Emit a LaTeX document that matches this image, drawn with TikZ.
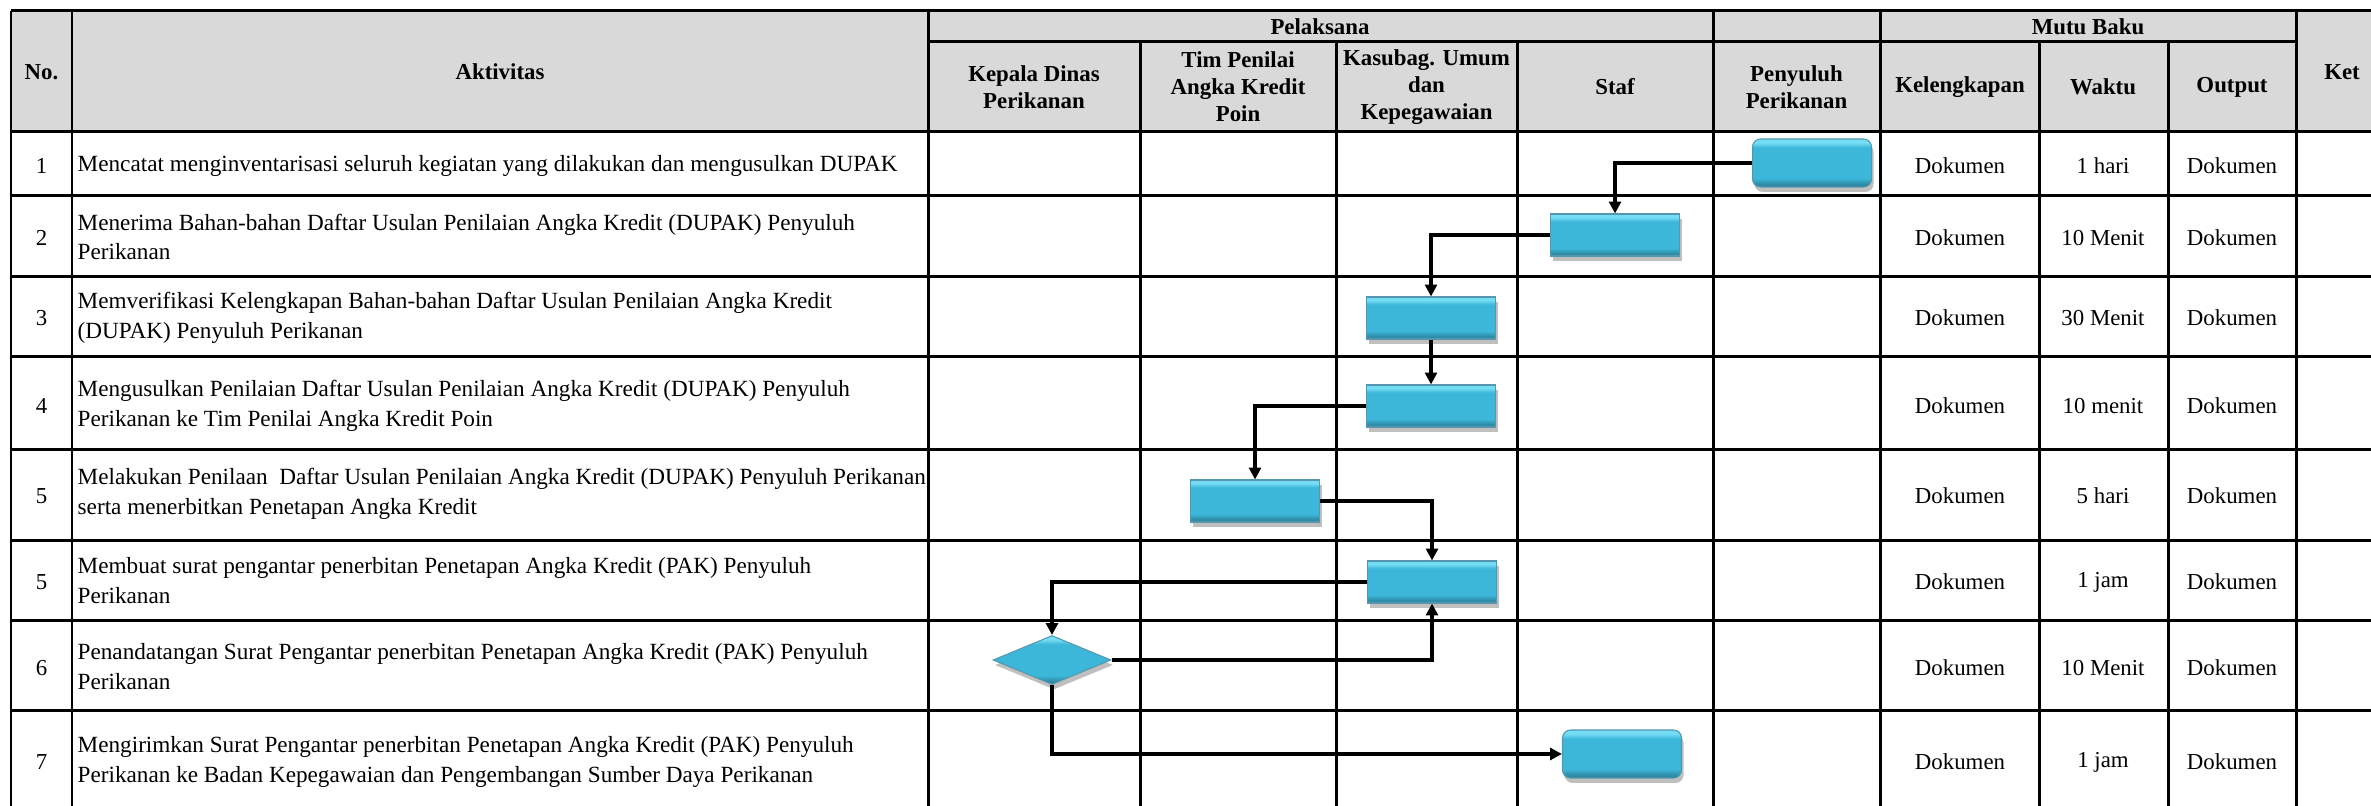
\documentclass[tikz,border=0pt]{standalone}
\usepackage{fontspec}
\setmainfont{Liberation Serif}
\usetikzlibrary{arrows.meta,shapes.geometric,shadows}

\definecolor{abu}{HTML}{D9D9D9}
\definecolor{birumuda}{HTML}{74DCF4}
\definecolor{biru}{HTML}{3CB6D9}
\definecolor{birutua}{HTML}{2B7E99}

% isian simbol: tepi atas terang, badan rata, tepi bawah gelap
\pgfdeclareverticalshading{timbul}{100bp}{color(0bp)=(birutua); color(25bp)=(birutua);
  color(29bp)=(biru!80!black); color(34bp)=(biru); color(66bp)=(biru);
  color(71bp)=(birumuda); color(75bp)=(birumuda); color(100bp)=(birumuda)}

\tikzset{
  garis/.style={line width=0.85pt},
  judul/.style={font=\bfseries\fontsize{6.5}{7.7}\selectfont, align=center, inner sep=0pt},
  kegiatan/.style={font=\fontsize{6.6}{8.5}\selectfont, align=left, anchor=west, inner sep=0pt},
  sel/.style={font=\fontsize{6.5}{8}\selectfont, inner sep=0pt},
  simbol/.style={draw=birutua!80, line width=0.3pt, shading=timbul, inner sep=0pt,
    drop shadow={shadow xshift=0.2mm, shadow yshift=-0.5mm, opacity=0.25, fill=black}},
  proses/.style={simbol, rectangle, minimum width=12.9mm, minimum height=4.2mm},
  terminal/.style={simbol, rectangle, rounded corners=0.8mm, minimum width=11.9mm, minimum height=4.8mm},
  keputusan/.style={simbol, diamond, minimum width=11.8mm, minimum height=4.9mm},
  alur/.style={line width=1pt, -{Triangle[length=3.4pt,width=3.4pt]}}
}

\begin{document}
\begin{tikzpicture}[x=0.1mm,y=-0.1mm]
  \clip (0,0) rectangle (2371,806);
  % kepala tabel
  \fill[abu] (11,11) rectangle (2390,132);
  % garis tabel
  \foreach \y in {11,132,196,277,357,450,541,621,711}
    \draw[garis] (11,\y) -- (2390,\y);
  \draw[garis] (928,42) -- (2296,42);
  \foreach \x in {11,72,928,1713,1880,2296}
    \draw[garis] (\x,11) -- (\x,820);
  \foreach \x in {1140,1336,1517,2039,2168}
    \draw[garis] (\x,42) -- (\x,820);

  \node[judul] (h-no) at (41.5,72) {No.};
  \node[judul] (h-akt) at (500,72) {Aktivitas};
  \node[judul] (h-pel) at (1320,27) {Pelaksana};
  \node[judul] (h-kadis) at (1034,87) {Kepala Dinas\\Perikanan};
  \node[judul] (h-tim) at (1238,87) {Tim Penilai\\Angka Kredit\\Poin};
  \node[judul] (h-kasubag) at (1426.5,87) {Kasubag. Umum\\dan\\Kepegawaian};
  \node[judul] (h-staf) at (1615,87) {Staf};
  \node[judul] (h-penyuluh) at (1796.5,87) {Penyuluh\\Perikanan};
  \node[judul] (h-mutu) at (2088,27) {Mutu Baku};
  \node[judul] (h-kel) at (1960,87) {Kelengkapan};
  \node[judul] (h-waktu) at (2103,87) {Waktu};
  \node[judul] (h-output) at (2232,87) {Output};
  \node[judul] (h-ket) at (2342,72) {Ket};

  % nomor, kelengkapan, waktu dan output tiap baris
  \foreach \i/\no/\y/\waktu in {1/1/166/1 hari, 2/2/238/10 Menit, 3/3/318/30 Menit,
      4/4/406/10 menit, 5/5/496/5 hari, 6/5/582/1 jam, 7/6/668/10 Menit, 8/7/762/1 jam} {
    \node[sel] (no-\i) at (41.5,\y) {\no};
    \node[sel] (kel-\i) at (1960,\y) {Dokumen};
    \node[sel] (waktu-\i) at (2103,\y) {\waktu};
    \node[sel] (out-\i) at (2232,\y) {Dokumen};
  }

  % aktivitas
  \node[kegiatan] (a1) at (77,166) {Mencatat menginventarisasi seluruh kegiatan yang dilakukan dan mengusulkan DUPAK};
  \node[kegiatan] (a2) at (77,237) {Menerima Bahan-bahan Daftar Usulan Penilaian Angka Kredit (DUPAK) Penyuluh\\Perikanan};
  \node[kegiatan] (a3) at (77,318) {Memverifikasi Kelengkapan Bahan-bahan Daftar Usulan Penilaian Angka Kredit\\(DUPAK) Penyuluh Perikanan};
  \node[kegiatan] (a4) at (77,406) {Mengusulkan Penilaian Daftar Usulan Penilaian Angka Kredit (DUPAK) Penyuluh\\Perikanan ke Tim Penilai Angka Kredit Poin};
  \node[kegiatan] (a5) at (77,494) {Melakukan Penilaan\ \ Daftar Usulan Penilaian Angka Kredit (DUPAK) Penyuluh Perikanan\\serta menerbitkan Penetapan Angka Kredit};
  \node[kegiatan] (a6) at (77,581) {Membuat surat pengantar penerbitan Penetapan Angka Kredit (PAK) Penyuluh\\Perikanan};
  \node[kegiatan] (a7) at (77,667) {Penandatangan Surat Pengantar penerbitan Penetapan Angka Kredit (PAK) Penyuluh\\Perikanan};
  \node[kegiatan] (a8) at (77,762) {Mengirimkan Surat Pengantar penerbitan Penetapan Angka Kredit (PAK) Penyuluh\\Perikanan ke Badan Kepegawaian dan Pengembangan Sumber Daya Perikanan};

  % bagan alir
  \node[terminal] (b1) at (1812,163) {};
  \node[proses] (b2) at (1615,235) {};
  \node[proses] (b3) at (1431,318) {};
  \node[proses] (b4) at (1431,406) {};
  \node[proses] (b5) at (1255,501) {};
  \node[proses] (b6) at (1432,582) {};
  \node[keputusan] (d1) at (1052,660) {};
  \node[terminal] (b7) at (1622,754) {};

  \draw[alur] (b1.west) -| (b2.north);
  \draw[alur] (b2.west) -| (b3.north);
  \draw[alur] (b3.south) -- (b4.north);
  \draw[alur] (b4.west) -| (b5.north);
  \draw[alur] (b5.east) -| (b6.north);
  \draw[alur] (b6.west) -| (d1.north);
  \draw[alur] (d1.east) -| (b6.south);
  \draw[alur] (d1.south) |- (b7.west);
\end{tikzpicture}
\end{document}
